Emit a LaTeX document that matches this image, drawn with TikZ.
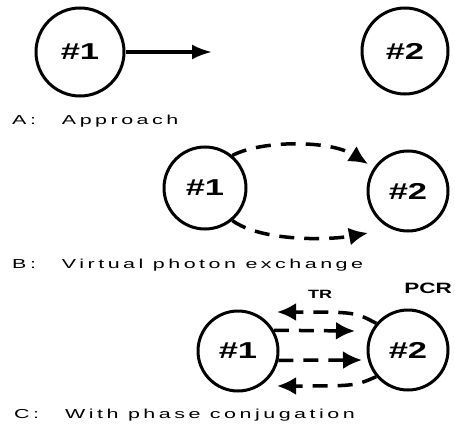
\documentclass[tikz,border=0pt]{standalone}
\usepackage{fontspec}
\setmainfont{Liberation Sans}
\newfontfamily\capfont[FakeStretch=1.65,LetterSpace=27]{Liberation Sans}
\newfontfamily\numfont[FakeStretch=1.5]{Liberation Sans}
\usetikzlibrary{arrows.meta}
\begin{document}
\begin{tikzpicture}[x=1pt,y=-1pt,
  ball/.style={circle, draw, line width=3pt, minimum size=86pt, inner sep=0pt,
    font=\numfont\bfseries\fontsize{23}{23}\selectfont},
  captxt/.style={anchor=west, inner sep=0pt, font=\capfont\fontsize{13}{13}\selectfont},
  solidarr/.style={line width=3.2pt, -{Latex[length=20pt,width=15pt]}},
  dasharr/.style={line width=3.5pt, dash pattern=on 15pt off 10pt, -{Latex[length=19pt,width=18pt]}},
  lbl/.style={inner sep=0pt, font=\numfont\bfseries}
]
\useasboundingbox (0,0) rectangle (455,428);
% Panel A
\node[ball, minimum size=88pt] (a1) at (80,52) {\#1};
\node[ball, minimum size=86pt] (a2) at (405,51) {\#2};
\coordinate (atip) at (212,52);
\draw[solidarr] (a1) -- (atip);
\node[captxt] (capA) at (12,121) {A:\hspace{26pt}Approach};
% Panel B
\node[ball, minimum size=82pt] (b1) at (205,188) {\#1};
\node[ball, minimum size=80pt] (b2) at (408,191) {\#2};
\coordinate (bt) at (368,164);
\coordinate (bb) at (368,233);
\draw[dasharr] (b1.50) .. controls (262,140) and (330,140) .. (bt);
\draw[dasharr] (b1.-50) .. controls (262,242) and (330,240) .. (bb);
\node[captxt] (capB) at (12,265) {B:\hspace{26pt}Virtual photon exchange};
% Panel C
\node[ball, minimum size=80pt] (c1) at (238,351) {\#1};
\node[ball, minimum size=80pt] (c2) at (408,350) {\#2};
\coordinate (ct) at (277,312);
\coordinate (cr2) at (355,331);
\coordinate (cr3) at (362,360);
\coordinate (cb) at (277,386);
\draw[dasharr] (c2.140) .. controls (355,312) .. (ct);
\draw[dasharr] (c1.30) -- (cr2);
\draw[dasharr] (c1.-13) -- (cr3);
\draw[dasharr] (c2.220) .. controls (355,386) .. (cb);
\node[lbl, font=\numfont\bfseries\fontsize{12}{12}\selectfont] (tr) at (320,294) {TR};
\node[lbl, font=\numfont\bfseries\fontsize{15}{15}\selectfont] (pcr) at (428,288) {PCR};
\node[captxt] (capC) at (14,415) {C:\hspace{26pt}With phase conjugation};
\end{tikzpicture}
\end{document}
